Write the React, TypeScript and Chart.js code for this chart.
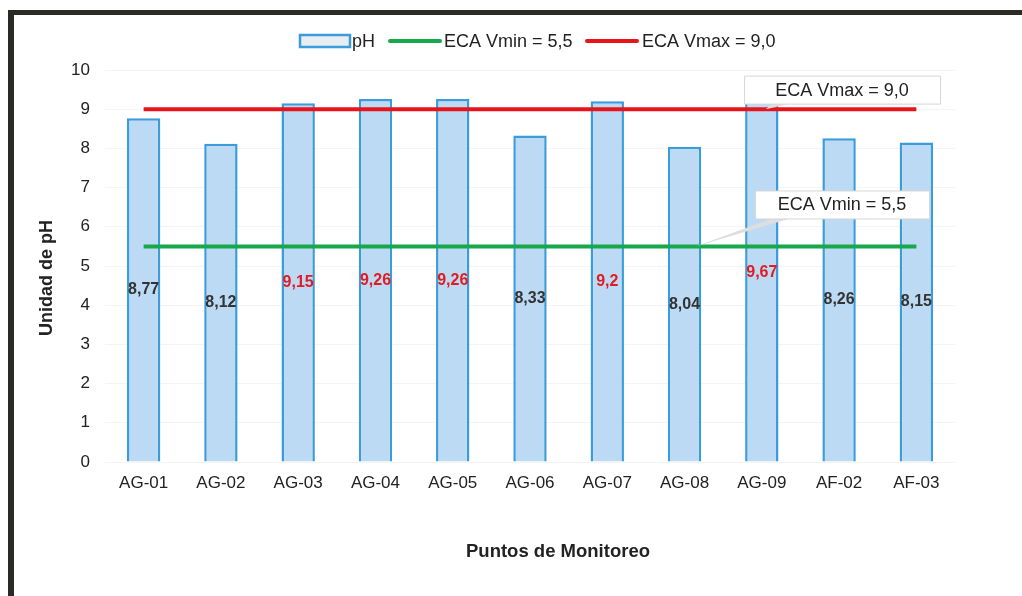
import React, { useEffect, useRef } from "react";
import { Chart, registerables } from "chart.js";

Chart.register(...registerables);

const categories = ["AG-01", "AG-02", "AG-03", "AG-04", "AG-05", "AG-06", "AG-07", "AG-08", "AG-09", "AF-02", "AF-03"];
const phValues = [8.77, 8.12, 9.15, 9.26, 9.26, 8.33, 9.2, 8.04, 9.67, 8.26, 8.15];
const ecaMinValues = [5.5, 5.5, 5.5, 5.5, 5.5, 5.5, 5.5, 5.5, 5.5, 5.5, 5.5];
const ecaMaxValues = [9.0, 9.0, 9.0, 9.0, 9.0, 9.0, 9.0, 9.0, 9.0, 9.0, 9.0];
const seriesNames = ["pH", "ECA Vmin = 5,5", "ECA Vmax = 9,0"];
const yMin = 0;
const yMax = 10;
const yStep = 1;
const xTitle = "Puntos de Monitoreo";
const yTitle = "Unidad de pH";
const calloutMaxText = "ECA Vmax = 9,0";
const calloutMinText = "ECA Vmin = 5,5";
const ecaMaxLimit = 9.0;
const ecaMinLimit = 5.5;

const FONT = "'Liberation Sans', Arial, Helvetica, sans-serif";
const BAR_FILL = "#bcdaf3";
const BAR_BORDER = "#3b9cdb";
const GREEN = "#16a84a";
const RED = "#e8141c";
const TEXT = "#222222";

const fmt = (v: number) => String(v).replace(".", ",");

const decorPlugin = {
  id: "decor",
  beforeDraw(chart: any) {
    const { ctx, width, height } = chart;
    ctx.save();
    ctx.fillStyle = "#ffffff";
    ctx.fillRect(0, 0, width, height);
    ctx.restore();
  },
  afterDatasetsDraw(chart: any) {
    const { ctx } = chart;
    const meta = chart.getDatasetMeta(0);
    ctx.save();
    ctx.font = `bold 16px ${FONT}`;
    ctx.textAlign = "center";
    ctx.textBaseline = "middle";
    meta.data.forEach((el: any, i: number) => {
      const v = phValues[i];
      ctx.fillStyle = v > ecaMaxLimit ? "#e21b23" : "#333333";
      ctx.fillText(fmt(v), el.x, (el.y + el.base) / 2);
    });
    ctx.restore();
  },
  afterDraw(chart: any) {
    const { ctx, scales } = chart;
    const xs = scales.x;
    const ys = scales.y;
    ctx.save();

    // callouts
    const drawCallout = (text: string, cx: number, cy: number, w: number, h: number, tx: number, ty: number, ax: number) => {
      const left = cx - w / 2;
      const top = cy - h / 2;
      ctx.fillStyle = "#dedede";
      ctx.beginPath();
      ctx.moveTo(tx, ty);
      ctx.lineTo(ax, top + h);
      ctx.lineTo(ax + 18, top + h);
      ctx.closePath();
      ctx.fill();
      ctx.fillStyle = "#ffffff";
      ctx.strokeStyle = "#d6d6d6";
      ctx.lineWidth = 1;
      ctx.beginPath();
      ctx.rect(left + 0.5, top + 0.5, w, h);
      ctx.fill();
      ctx.stroke();
      ctx.fillStyle = TEXT;
      ctx.font = `18px ${FONT}`;
      ctx.textAlign = "center";
      ctx.textBaseline = "middle";
      ctx.fillText(text, cx, cy + 1);
    };
    const cxBox = xs.getPixelForValue(9) + 3;
    drawCallout(calloutMaxText, cxBox, ys.getPixelForValue(9.5), 196, 28,
      xs.getPixelForValue(8) + 4, ys.getPixelForValue(ecaMaxLimit), cxBox - 70);
    drawCallout(calloutMinText, cxBox, ys.getPixelForValue(6.57), 174, 28,
      xs.getPixelForValue(7) + 11, ys.getPixelForValue(ecaMinLimit), cxBox - 70);

    // legend
    const ly = 41;
    ctx.textBaseline = "middle";
    ctx.textAlign = "left";
    ctx.font = `18px ${FONT}`;
    ctx.fillStyle = "#e8edf2";
    ctx.fillRect(300, 35, 50, 12);
    ctx.strokeStyle = BAR_BORDER;
    ctx.lineWidth = 2.5;
    ctx.strokeRect(300, 35, 50, 12);
    ctx.fillStyle = TEXT;
    ctx.fillText(seriesNames[0], 352, ly + 1);
    ctx.lineCap = "round";
    ctx.lineWidth = 4;
    ctx.strokeStyle = GREEN;
    ctx.beginPath();
    ctx.moveTo(390, ly);
    ctx.lineTo(440, ly);
    ctx.stroke();
    ctx.fillText(seriesNames[1], 444, ly + 1);
    ctx.strokeStyle = RED;
    ctx.beginPath();
    ctx.moveTo(587, ly);
    ctx.lineTo(637, ly);
    ctx.stroke();
    ctx.fillText(seriesNames[2], 642, ly + 1);

    // axis titles
    ctx.font = `bold 18.5px ${FONT}`;
    ctx.textAlign = "center";
    ctx.fillStyle = TEXT;
    ctx.fillText(xTitle, 558, 552);
    ctx.save();
    ctx.font = `bold 18px ${FONT}`;
    ctx.translate(47, 278);
    ctx.rotate(-Math.PI / 2);
    ctx.fillText(yTitle, 0, 0);
    ctx.restore();

    // frame
    ctx.fillStyle = "#2b2a25";
    ctx.fillRect(8, 10, 6, 590);
    ctx.fillRect(8, 10, 1020, 5);
    ctx.restore();
  },
};

export default function App() {
  const canvasRef = useRef<HTMLCanvasElement | null>(null);

  useEffect(() => {
    if (!canvasRef.current) return;
    const chart = new Chart(canvasRef.current, {
      type: "bar",
      data: {
        labels: categories,
        datasets: [
          {
            type: "bar",
            label: seriesNames[0],
            data: phValues,
            backgroundColor: BAR_FILL,
            borderColor: BAR_BORDER,
            borderWidth: 2.5,
            categoryPercentage: 0.8,
            barPercentage: 0.54,
            order: 2,
          } as any,
          {
            type: "line",
            label: seriesNames[1],
            data: ecaMinValues,
            borderColor: GREEN,
            borderWidth: 4,
            pointRadius: 0,
            fill: false,
            order: 0,
          } as any,
          {
            type: "line",
            label: seriesNames[2],
            data: ecaMaxValues,
            borderColor: RED,
            borderWidth: 4,
            pointRadius: 0,
            fill: false,
            order: 0,
          } as any,
        ],
      },
      options: {
        animation: false,
        responsive: true,
        maintainAspectRatio: false,
        layout: { padding: { top: 70, right: 67, left: 0, bottom: 0 } },
        plugins: {
          legend: { display: false },
          tooltip: { enabled: false },
        },
        scales: {
          x: {
            grid: { display: false, drawTicks: false },
            border: { display: false },
            ticks: { color: TEXT, font: { family: FONT, size: 17 }, padding: 11 },
            afterFit: (s: any) => { s.height = 134; },
          },
          y: {
            min: yMin,
            max: yMax,
            grid: { color: "#f4f4f4", drawTicks: false },
            border: { display: false },
            ticks: { stepSize: yStep, color: TEXT, font: { family: FONT, size: 17 }, padding: 15 },
            afterFit: (s: any) => { s.width = 105; },
          },
        },
      },
      plugins: [decorPlugin],
    });
    return () => chart.destroy();
  }, []);

  return (
    <div style={{ position: "absolute", left: 0, top: 0, width: 1022, height: 596 }}>
      <canvas ref={canvasRef} />
    </div>
  );
}
